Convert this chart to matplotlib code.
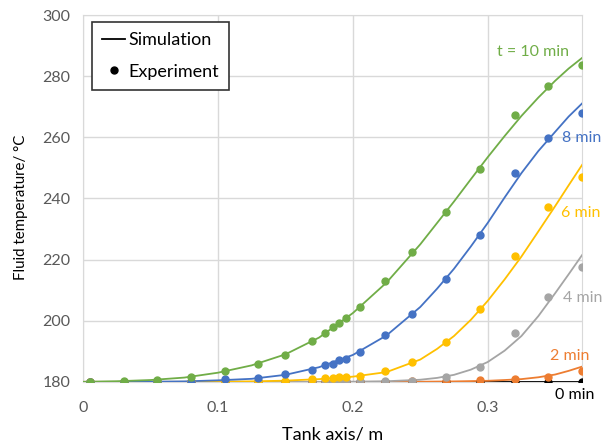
import numpy as np
import matplotlib
matplotlib.use('Agg')
import matplotlib.pyplot as plt
from matplotlib.lines import Line2D

plt.rcParams['font.family'] = ['Lato', 'DejaVu Sans']

# experiment positions (tank axis, m)
x_exp = [0.005, 0.03, 0.055, 0.08, 0.105, 0.13, 0.15, 0.17, 0.179, 0.185,
         0.19, 0.195, 0.205, 0.224, 0.244, 0.269, 0.294, 0.32, 0.345, 0.37]

exp_10 = [180.0, 180.3, 180.7, 181.5, 183.4, 185.8, 188.8, 193.4, 196.1, 197.9,
          199.4, 201.0, 204.6, 213.0, 222.6, 235.5, 249.5, 267.2, 276.8, 283.6]
exp_8 = [180.0, 180.0, 180.0, 180.1, 180.9, 181.4, 182.5, 183.9, 185.6, 185.9,
         187.0, 187.5, 189.7, 195.4, 202.2, 213.7, 228.0, 248.4, 259.7, 267.9]
exp_6 = [180.0, 180.0, 180.0, 180.0, 180.1, 180.2, 180.3, 180.8, 181.2, 181.4,
         181.5, 181.6, 182.0, 183.4, 186.4, 192.9, 203.8, 221.2, 237.1, 247.1]
exp_4 = [180.0, 180.0, 180.0, 180.0, 180.0, 180.0, 180.0, 180.1, 180.1, 180.2,
         180.2, 180.2, 180.2, 180.3, 180.4, 181.7, 184.8, 195.9, 207.7, 217.7]
exp_2 = [180.0, 180.0, 180.0, 180.0, 180.0, 180.0, 180.0, 180.0, 180.0, 180.0,
         180.0, 180.0, 180.0, 180.0, 180.2, 180.4, 180.7, 181.0, 181.7, 183.6]
exp_0 = [180.0] * 20

# simulation curves
x_sim = [0.0, 0.025, 0.05, 0.075, 0.1, 0.125, 0.15, 0.175, 0.2, 0.225,
         0.25, 0.2625, 0.275, 0.2875, 0.3, 0.3125, 0.325, 0.3375, 0.35, 0.36, 0.37]
sim_10 = [180.0, 180.2, 180.6, 181.4, 183.0, 185.4, 189.0, 194.5, 202.5, 212.5,
          225.0, 232.0, 239.0, 246.3, 253.5, 260.4, 267.0, 273.0, 278.5, 282.5, 286.0]
sim_8 = [180.0, 180.0, 180.05, 180.15, 180.5, 181.0, 182.3, 184.8, 188.8, 195.2,
         204.5, 210.5, 217.0, 224.3, 232.0, 240.3, 248.3, 255.5, 261.8, 266.8, 271.1]
sim_6 = [180.0, 180.0, 180.0, 180.0, 180.05, 180.15, 180.4, 180.9, 181.7, 183.2,
         187.3, 190.8, 195.0, 200.3, 206.5, 213.5, 221.0, 229.2, 237.5, 244.3, 251.0]
sim_4 = [180.0, 180.0, 180.0, 180.0, 180.0, 180.0, 180.0, 180.0, 180.05, 180.2,
         180.7, 181.3, 182.3, 184.0, 186.5, 190.2, 195.0, 201.5, 209.0, 215.2, 221.5]
sim_2 = [180.0, 180.0, 180.0, 180.0, 180.0, 180.0, 180.0, 180.0, 180.0, 180.0,
         180.05, 180.1, 180.15, 180.25, 180.35, 180.6, 180.9, 181.5, 182.4, 183.6, 185.0]
sim_0 = [180.0] * 21

labels = ['t = 10 min', '8 min', '6 min', '4 min', '2 min', '0 min']
colors = ['#70AD47', '#4472C4', '#FFC000', '#A5A5A5', '#ED7D31', '#000000']
label_pos = [(0.307, 287.8), (0.355, 259.8), (0.354, 235.3), (0.356, 207.3),
             (0.346, 188.3), (0.350, 175.8)]

sims = [sim_10, sim_8, sim_6, sim_4, sim_2, sim_0]
exps = [exp_10, exp_8, exp_6, exp_4, exp_2, exp_0]

fig = plt.figure(figsize=(6.02, 4.43), dpi=100)
ax = fig.add_axes([0.138, 0.138, 0.829, 0.828])

for k in range(len(sims) - 1, -1, -1):
    ax.plot(x_sim, sims[k], color=colors[k], linewidth=1.3, zorder=3)
    ax.plot(x_exp, exps[k], 'o', color=colors[k], markersize=5, zorder=4)
    ax.text(label_pos[k][0], label_pos[k][1], labels[k], color=colors[k],
            fontsize=11.5, va='center', clip_on=False)

ax.set_xlim(0, 0.37)
ax.set_ylim(180, 300)
ax.set_xticks([0, 0.1, 0.2, 0.3])
ax.set_xticklabels(['0', '0.1', '0.2', '0.3'])
ax.set_yticks(np.arange(180, 301, 20))
ax.grid(color='#d9d9d9', linewidth=1)
ax.set_axisbelow(True)
for s in ax.spines.values():
    s.set_color('#d9d9d9')
ax.tick_params(length=0, labelsize=11.5, labelcolor='#595959')
ax.tick_params(axis='x', pad=14)
ax.tick_params(axis='y', pad=9)

ax.set_xlabel('Tank axis/ m', fontsize=13, labelpad=8)
ax.set_ylabel('Fluid temperature/ °C', fontsize=10.8)
ax.yaxis.set_label_coords(-0.11, 0.475)

handles = [Line2D([], [], color='black', linewidth=1.3),
           Line2D([], [], marker='o', color='black', linestyle='', markersize=5)]
leg = ax.legend(handles, ['Simulation', 'Experiment'], loc='upper left',
                bbox_to_anchor=(0.018, 0.98), fontsize=13, fancybox=False,
                framealpha=1, edgecolor='#333333', handlelength=1.3,
                handletextpad=0.15, borderpad=0.55, labelspacing=0.85,
                borderaxespad=0)
leg.get_frame().set_linewidth(1.2)

fig.savefig('out.png', dpi=100)
